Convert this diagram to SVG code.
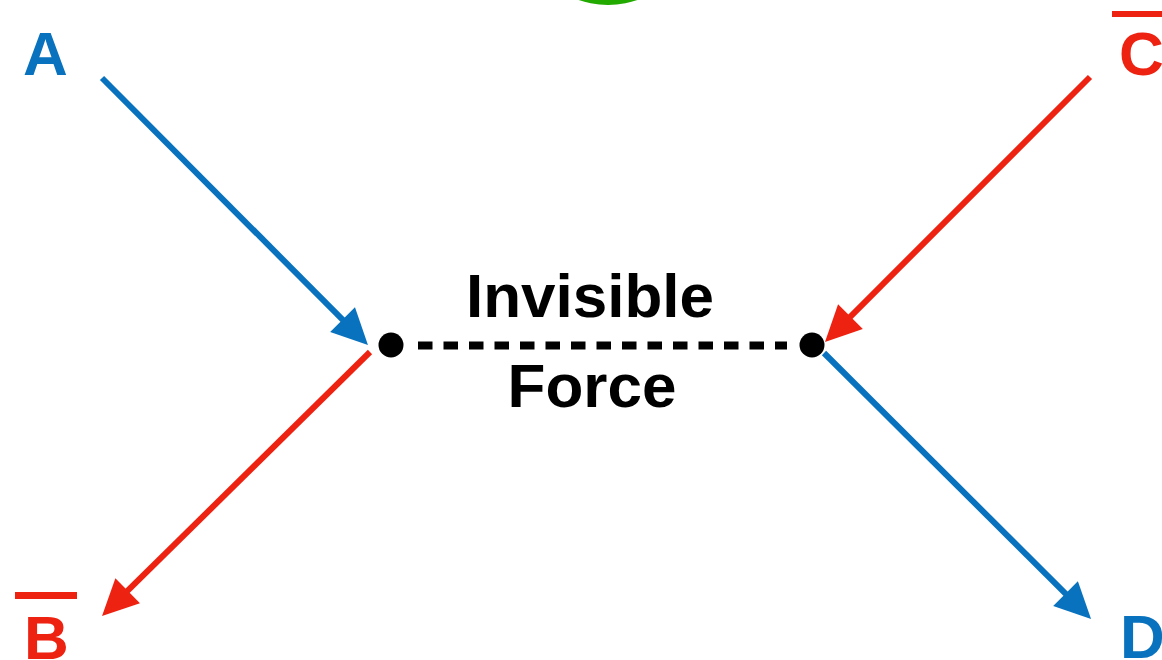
<svg xmlns="http://www.w3.org/2000/svg" width="1162" height="660" viewBox="0 0 1162 660">
<style>
.lbl{font-family:"Liberation Sans",Arial,sans-serif;font-weight:bold;font-size:62px}
.blue{fill:#0872BE}
.red{fill:#EE2211}
.bl{stroke:#0872BE;stroke-width:6;fill:none}
.rl{stroke:#EE2211;stroke-width:6;fill:none}
</style>
<defs>
<marker id="ab" markerUnits="userSpaceOnUse" markerWidth="40" markerHeight="40" refX="6" refY="17.5" orient="auto" overflow="visible">
<path d="M0,0 L36,17.5 L0,35 Z" fill="#0872BE"/>
</marker>
<marker id="ar" markerUnits="userSpaceOnUse" markerWidth="40" markerHeight="40" refX="6" refY="17.5" orient="auto" overflow="visible">
<path d="M0,0 L36,17.5 L0,35 Z" fill="#EE2211"/>
</marker>
</defs>
<rect width="1162" height="660" fill="#fff"/>
<g id="top-circle"><circle cx="608" cy="-84" r="89" fill="#22AA00"/></g>
<g id="connectors">
<line class="bl" x1="102" y1="78" x2="346.8" y2="323.8" marker-end="url(#ab)"/>
<line class="rl" x1="370" y1="352" x2="123.4" y2="594.9" marker-end="url(#ar)"/>
<line class="rl" x1="1090" y1="77" x2="846.2" y2="320.8" marker-end="url(#ar)"/>
<line class="bl" x1="824" y1="353" x2="1069.8" y2="597.8" marker-end="url(#ab)"/>
<line x1="418" y1="345.5" x2="787" y2="345.5" stroke="#000" stroke-width="8" stroke-dasharray="14.5 11"/>
</g>
<g id="vertex-left"><circle cx="391" cy="345" r="12.5" fill="#000"/></g>
<g id="vertex-right"><circle cx="812" cy="345" r="12.5" fill="#000"/></g>
<g id="label-force">
<text class="lbl" x="590" y="317" text-anchor="middle" fill="#000">Invisible</text>
<text class="lbl" x="592" y="407" text-anchor="middle" fill="#000">Force</text>
</g>
<g id="node-A"><text class="lbl blue" x="23" y="75">A</text></g>
<g id="node-C"><rect x="1112" y="11" width="50" height="6" class="red"/><text class="lbl red" x="1119" y="75">C</text></g>
<g id="node-B"><rect x="15" y="592" width="62" height="7" class="red"/><text class="lbl red" x="24" y="659">B</text></g>
<g id="node-D"><text class="lbl blue" x="1120" y="658">D</text></g>
</svg>
